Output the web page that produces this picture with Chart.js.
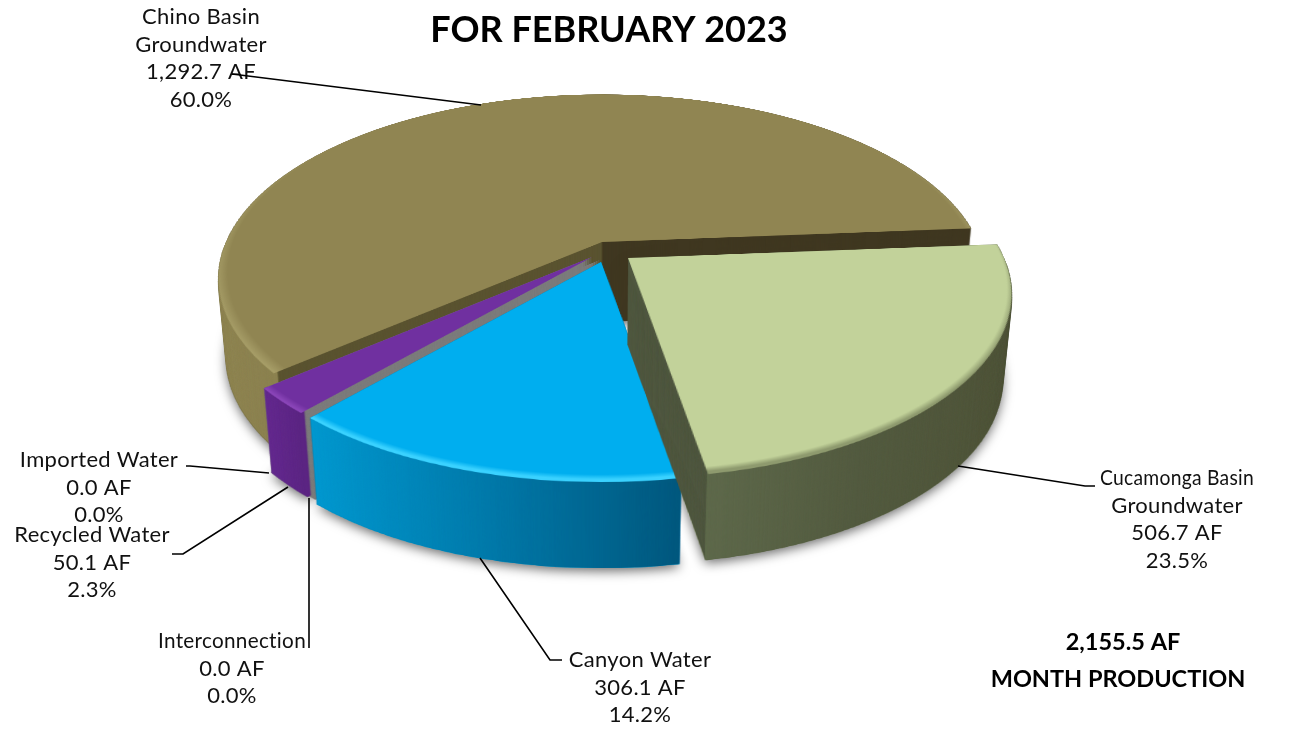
<!DOCTYPE html>
<html>
<head>
<meta charset="utf-8">
<title>Month Production</title>
<script src="https://cdn.jsdelivr.net/npm/chart.js@4/dist/chart.umd.min.js"></script>
<style>
  html, body { margin: 0; padding: 0; background: #fff; }
  canvas { display: block; }
</style>
</head>
<body>
<canvas id="productionPie" width="1291" height="729"></canvas>
<script>
const categories = ['Cucamonga Basin Groundwater', 'Canyon Water', 'Interconnection', 'Recycled Water', 'Imported Water', 'Chino Basin Groundwater'];
const afValues = [506.7, 306.1, 0.0, 50.1, 0.0, 1292.7];
const percents = [23.5, 14.2, 0.0, 2.3, 0.0, 60.0];
const titleText = 'FOR FEBRUARY 2023';
const totalLines = ['2,155.5 AF', 'MONTH PRODUCTION'];

// pie seen in perspective: plane squash and foreshortening
const RADIUS = 376;
const SQUASH = 0.47;
const FORESHORTEN = 0.197 / RADIUS;
const CENTER_X = 600;
const CENTER_Y = 252;
const WALL_TAPER = 0.00026;
const BEVEL_SHIFT = 8;

// per slice look, indexed like categories
const topColors = ['#c2d29a', '#00aeef', '#7b7b7b', '#7030a0', '#7030a0', '#908552'];
const rimColors = ['#8e9a6e', '#3ad2ff', '#7b7b7b', '#8a45b8', '#8a45b8', '#a79e68'];
const bevelStart = [0.972, 0.972, 0.972, 0.972, 0.972, 0.96];
const explodeX = [28, 1, 0, -8, 0, 2];
const explodeY = [6, 10, 0, 5, 0, -10];
const wallDepth = [86, 86, 0, 84, 0, 80];
const wallStops = [
  ['#5e694b', '#535b40', '#4f5439'],
  ['#0098cf', '#0078a8', '#00587e'],
  [],
  ['#64298f', '#5f2788', '#5a2480'],
  [],
  ['#8f8552', '#8c8250', '#8c8250']
];
const wallFrom = [705, 310, 0, 262, 0, 219];
const wallTo = [1012, 680, 0, 308, 0, 300];
const cutStops = [
  ['#505840', '#505840'],
  ['#0078a8', '#0078a8'],
  [],
  ['#7b7b7b', '#7b7b7b'],
  [],
  ['#5a5330', '#3f3720']
];
const drawOrder = [5, 3, 1, 0];

// label text blocks: anchor for the centre of each line, then the leader polyline
const labelBlocks = [
  { i: 5, lines: ['Chino Basin', 'Groundwater'], x: 201, y: 17, leader: [[232, 74], [481, 105]] },
  { i: 0, lines: ['Cucamonga Basin', 'Groundwater'], x: 1177, y: 478, maxWidth: 154, leader: [[958, 466], [1085, 486], [1095, 486]] },
  { i: 1, lines: ['Canyon Water'], x: 640, y: 660, leader: [[480, 558], [550, 660], [562, 660]] },
  { i: 2, lines: ['Interconnection'], x: 232, y: 641, maxWidth: 148, leader: [[309, 498], [309, 648]] },
  { i: 3, lines: ['Recycled Water'], x: 92, y: 535, leader: [[288, 487], [183, 554], [172, 554]] },
  { i: 4, lines: ['Imported Water'], x: 99, y: 460, leader: [[269, 473], [190, 466], [186, 466]] }
];

function newLayer(w, h) {
  const c = document.createElement('canvas');
  c.width = w;
  c.height = h;
  return c;
}

// renders one arc flat, centred on a square layer
function flatSlice(arc, rimOnly) {
  const half = RADIUS + 6;
  const layer = newLayer(half * 2, half * 2);
  const c = layer.getContext('2d');
  c.translate(half - arc.x, half - arc.y);
  arc.draw(c);
  if (rimOnly) {
    // keep only the front half of the outer edge, the back never shows a wall
    c.globalCompositeOperation = 'destination-out';
    c.beginPath();
    c.arc(arc.x, arc.y, RADIUS - 4, 0, Math.PI * 2);
    c.fill();
    c.fillRect(arc.x - half, arc.y - half, half * 2, half);
  }
  return layer;
}

// row by row projection of a flat layer onto the tilted plane
function project(flat, apexX, apexY, w, h) {
  const layer = newLayer(w, h);
  const c = layer.getContext('2d');
  const half = flat.width / 2;
  const toV = (y) => y / (SQUASH + FORESHORTEN * y);
  const yMin = Math.floor(-half * SQUASH / (1 + FORESHORTEN * half));
  const yMax = Math.ceil(half * SQUASH / (1 - FORESHORTEN * half));
  for (let y = yMin; y < yMax; y++) {
    const v0 = toV(y);
    const v1 = toV(y + 1);
    const scale = 1 / (1 - FORESHORTEN * (v0 + v1) / 2);
    c.drawImage(flat, 0, v0 + half, flat.width, v1 - v0, apexX - half * scale, apexY + y, flat.width * scale, 1);
  }
  return layer;
}

function tinted(src, stops, x0, x1) {
  const layer = newLayer(src.width, src.height);
  const c = layer.getContext('2d');
  c.drawImage(src, 0, 0);
  c.globalCompositeOperation = 'source-in';
  const g = c.createLinearGradient(x0, 0, x1, 0);
  stops.forEach((s, n) => g.addColorStop(n / (stops.length - 1), s));
  c.fillStyle = g;
  c.fillRect(0, 0, src.width, src.height);
  return layer;
}

function extrude(ctx, layer, depth) {
  for (let t = depth; t >= 0; t--) {
    const s = 1 - WALL_TAPER * t;
    ctx.drawImage(layer, CENTER_X * (1 - s), t, layer.width * s, layer.height);
  }
}

const pie3d = {
  id: 'pie3d',
  beforeDatasetDraw() {
    return false;
  },
  afterDatasetsDraw(chart) {
    const ctx = chart.ctx;
    const arcs = chart.getDatasetMeta(0).data;
    const W = chart.width;
    const H = chart.height;
    const parts = {};
    drawOrder.forEach((i) => {
      const ax = CENTER_X + explodeX[i];
      const ay = CENTER_Y + explodeY[i];
      parts[i] = {
        top: project(flatSlice(arcs[i], false), ax, ay, W, H),
        rim: project(flatSlice(arcs[i], true), ax, ay, W, H)
      };
    });

    // soft shadow under the foot of every slice
    ctx.save();
    ctx.shadowColor = 'rgba(0,0,0,0.6)';
    ctx.shadowBlur = 12;
    ctx.shadowOffsetY = 3;
    drawOrder.forEach((i) => {
      const s = 1 - WALL_TAPER * wallDepth[i];
      ctx.drawImage(parts[i].top, CENTER_X * (1 - s), wallDepth[i], W * s, H);
    });
    ctx.restore();

    drawOrder.forEach((i) => {
      const p = parts[i];
      const apexX = CENTER_X + explodeX[i];
      if (i === 3) {
        // the grey sliver running along the recycled water wedge
        const grey = tinted(p.top, ['#7b7b7b', '#7b7b7b'], 0, W);
        ctx.save();
        ctx.translate(8, 3);
        extrude(ctx, grey, wallDepth[i]);
        ctx.restore();
      }
      const x0 = i === 5 ? apexX - 1 : apexX - RADIUS;
      const x1 = i === 5 ? apexX + 1 : apexX + RADIUS;
      extrude(ctx, tinted(p.top, cutStops[i], x0, x1), wallDepth[i]);
      extrude(ctx, tinted(p.rim, wallStops[i], wallFrom[i], wallTo[i]), wallDepth[i]);
      ctx.drawImage(p.top, 0, 0);
    });
  },
  afterDraw(chart) {
    const ctx = chart.ctx;
    ctx.save();
    ctx.fillStyle = '#111';
    ctx.strokeStyle = '#000';
    ctx.lineWidth = 1.6;
    ctx.textAlign = 'center';
    ctx.textBaseline = 'middle';

    labelBlocks.forEach((b) => {
      ctx.font = '22px Lato, sans-serif';
      ctx.letterSpacing = '0.3px';
      const lines = b.lines.concat([
        afValues[b.i].toLocaleString('en-US', { minimumFractionDigits: 1 }) + ' AF',
        percents[b.i].toFixed(1) + '%'
      ]);
      lines.forEach((line, n) => ctx.fillText(line, b.x, b.y + n * 27.5, b.maxWidth));
      ctx.beginPath();
      b.leader.forEach((pt, n) => (n ? ctx.lineTo(pt[0], pt[1]) : ctx.moveTo(pt[0], pt[1])));
      ctx.stroke();
    });

    ctx.letterSpacing = '0px';
    ctx.fillStyle = '#000';
    ctx.font = 'bold 36px Lato, sans-serif';
    ctx.fillText(titleText, 609, 30);
    ctx.font = 'bold 23.5px Lato, sans-serif';
    ctx.fillText(totalLines[0], 1123, 642);
    ctx.fillText(totalLines[1], 1118, 679);
    ctx.restore();
  }
};

new Chart(document.getElementById('productionPie'), {
  type: 'pie',
  data: {
    labels: categories,
    datasets: [{
      data: afValues,
      borderWidth: 0,
      // flat colour out to a lit bevel along the front edge
      backgroundColor(c) {
        const chart = c.chart;
        const cx = chart.width / 2;
        const cy = chart.height / 2 - BEVEL_SHIFT;
        const i = c.dataIndex === undefined ? 0 : c.dataIndex;
        const g = chart.ctx.createRadialGradient(cx, cy, 0, cx, cy, RADIUS + BEVEL_SHIFT);
        g.addColorStop(0, topColors[i]);
        g.addColorStop(bevelStart[i], topColors[i]);
        g.addColorStop(0.99, rimColors[i]);
        g.addColorStop(1, rimColors[i]);
        return g;
      }
    }]
  },
  options: {
    responsive: false,
    animation: false,
    rotation: 85.5,
    radius: RADIUS,
    layout: { padding: 0 },
    plugins: { legend: { display: false }, tooltip: { enabled: false } }
  },
  plugins: [pie3d]
});
</script>
</body>
</html>
